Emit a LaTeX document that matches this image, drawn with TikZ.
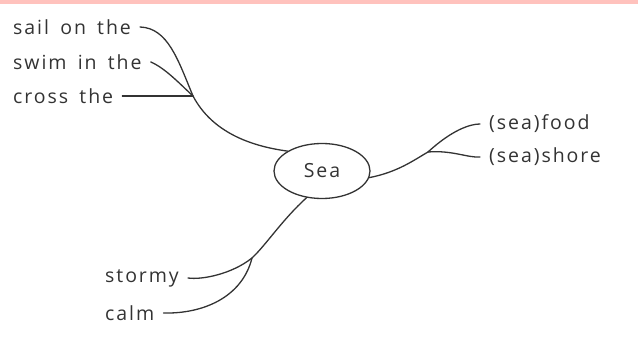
\documentclass[tikz,border=0pt]{standalone}
\usepackage{fontspec}
\usetikzlibrary{shapes.geometric}
\setmainfont{Open Sans}[LetterSpace=10,WordSpace=1.6]
\definecolor{band}{HTML}{FFC2BD}
\definecolor{ink}{HTML}{333333}
\begin{document}
\begin{tikzpicture}[x=1pt,y=-1pt,
  lbl/.style={font=\fontsize{19.5}{21}\selectfont, text=ink, inner xsep=9pt, inner ysep=0pt},
  conn/.style={draw=ink, line width=1.3pt, line cap=round},
  hub/.style={draw=ink, line width=1.3pt, ellipse, minimum width=96pt, minimum height=55pt, inner sep=0pt, font=\fontsize{19.5}{21}\selectfont, text=ink}]
\useasboundingbox (0,0) rectangle (638,353);
\fill[band] (0,0) rectangle (638,4);
\node[hub] (sea) at (322,171) {Sea};
\node[lbl, anchor=west] (sail) at (4,27) {sail on the};
\node[lbl, anchor=west] (swim) at (4,62) {swim in the};
\node[lbl, anchor=west] (cross) at (4,96) {cross the};
\node[lbl, anchor=west] (food) at (480,124) {(sea)food};
\node[lbl, anchor=west] (shore) at (480,157) {(sea)shore};
\node[lbl, anchor=west] (stormy) at (96,278) {stormy};
\node[lbl, anchor=west] (calm) at (96,313) {calm};
\coordinate (jL) at (193,96);
\coordinate (jR) at (428,152);
\coordinate (jB) at (252,258);
\draw[conn] (sail.east) .. controls (168,28) and (178,60) .. (jL);
\draw[conn] (swim.east) .. controls (165,68) and (180,84) .. (jL);
\draw[conn] (cross.east) -- (jL);
\draw[conn] (jL) .. controls (212,132) and (250,146) .. (sea.150);
\draw[conn] (sea.-8) .. controls (398,172) and (414,160) .. (jR);
\draw[conn] (jR) .. controls (452,130) and (470,124) .. (food.west);
\draw[conn] (jR) .. controls (452,150) and (468,158) .. (shore.west);
\draw[conn] (sea.240) .. controls (282,220) and (266,245) .. (jB);
\draw[conn] (jB) .. controls (232,274) and (202,280) .. (stormy.east);
\draw[conn] (jB) .. controls (242,298) and (202,314) .. (calm.east);
\end{tikzpicture}
\end{document}
